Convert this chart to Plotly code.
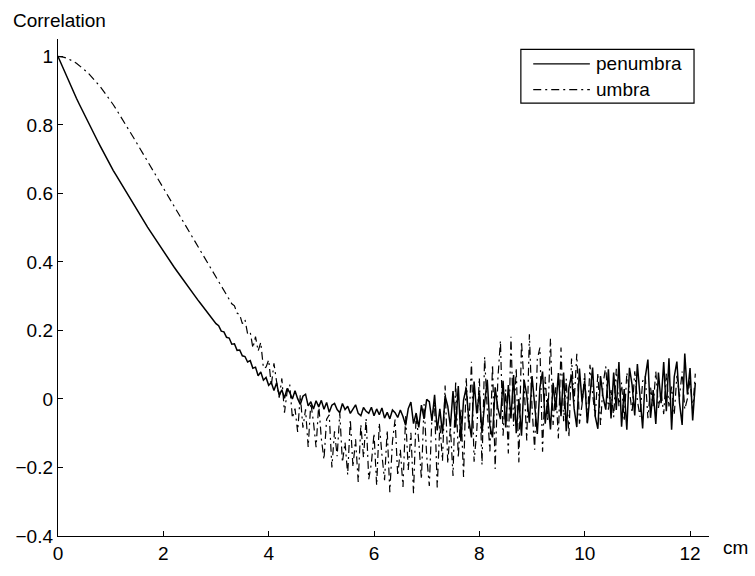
import plotly.graph_objects as go

# sampling grid (cm)
x_cm = [round(0.05 * i, 2) for i in range(243)]

# penumbra: smooth part 0.00 .. 4.00
penumbra_smooth = [
    1.000, 0.982, 0.964, 0.946, 0.929, 0.912, 0.895, 0.878, 0.862, 0.846,
    0.830, 0.814, 0.799, 0.784, 0.769, 0.754, 0.739, 0.724, 0.709, 0.695,
    0.681, 0.667, 0.654, 0.641, 0.628, 0.615, 0.602, 0.589, 0.576, 0.563,
    0.550, 0.538, 0.526, 0.514, 0.502, 0.490, 0.478, 0.466, 0.454, 0.442,
    0.430, 0.419, 0.408, 0.397, 0.386, 0.375, 0.364, 0.353, 0.342, 0.331,
    0.320, 0.310, 0.300, 0.290, 0.280, 0.270, 0.260, 0.250, 0.240, 0.230,
    0.220, 0.214, 0.198, 0.196, 0.180, 0.178, 0.160, 0.161, 0.142, 0.143,
    0.126, 0.124, 0.108, 0.112, 0.090, 0.093, 0.068, 0.079, 0.055, 0.063,
    0.040,
]
# penumbra: noisy part 4.05 .. 12.10
penumbra_noisy = [
    # 4.05 - 5.00
    0.048, 0.025, 0.047, 0.010, 0.027, 0.002, 0.031, 0.019, 0.000, 0.024,
    0.001, -0.016, 0.008, 0.014, -0.020, -0.008, -0.029, -0.005, -0.023, -0.004,
    # 5.05 - 6.50
    -0.030, -0.010, -0.039, -0.018, -0.013, -0.031, -0.040, -0.013, -0.031, -0.021,
    -0.042, -0.028, -0.017, -0.042, -0.049, -0.025, -0.036, -0.042, -0.024, -0.049,
    -0.029, -0.046, -0.026, -0.056, -0.039, -0.058, -0.032, -0.040, -0.054, -0.032,
    # 6.55 - 7.50
    -0.051, -0.077, -0.028, -0.009, -0.072, -0.041, -0.083, -0.018, -0.058, -0.001,
    -0.008, -0.064, 0.012, -0.092, -0.029, -0.101, 0.009, -0.021, -0.081, 0.023,
    # 7.55 - 9.50
    -0.083, 0.038, -0.123, -0.003, 0.032, -0.061, -0.112, 0.051, -0.042, 0.019,
    -0.099, -0.013, 0.056, -0.079, -0.112, 0.034, -0.026, -0.059, 0.053, -0.083,
    0.041, -0.057, 0.070, -0.100, 0.000, -0.107, 0.055, 0.011, -0.069, 0.067,
    -0.031, -0.102, 0.034, 0.080, -0.072, 0.001, -0.089, 0.047, -0.033, 0.076,
    # 9.55 - 12.10
    -0.050, 0.077, -0.094, 0.033, 0.069, -0.029, -0.082, 0.089, -0.009, 0.054,
    -0.071, 0.020, 0.092, -0.051, -0.087, 0.067, 0.005, -0.031, 0.087, -0.057,
    0.077, -0.032, 0.108, -0.081, 0.029, -0.090, 0.091, 0.041, -0.048, 0.102,
    -0.007, -0.086, 0.064, 0.115, -0.055, 0.026, -0.073, 0.077, -0.012, 0.108,
    -0.036, 0.119, -0.090, 0.065, 0.109, -0.011, -0.076, 0.133, 0.013, 0.090,
    -0.063, 0.047,
]
# umbra: smooth part 0.00 .. 3.30
umbra_smooth = [
    1.000, 0.9995, 0.998, 0.996, 0.993, 0.989, 0.985, 0.980, 0.974, 0.968,
    0.962, 0.955, 0.947, 0.939, 0.930, 0.921, 0.912, 0.902, 0.892, 0.881,
    0.870, 0.859, 0.847, 0.835, 0.823, 0.811, 0.798, 0.785, 0.772, 0.759,
    0.746, 0.733, 0.720, 0.707, 0.694, 0.681, 0.668, 0.655, 0.642, 0.629,
    0.616, 0.603, 0.590, 0.577, 0.564, 0.551, 0.538, 0.525, 0.512, 0.499,
    0.486, 0.473, 0.460, 0.447, 0.434, 0.421, 0.408, 0.395, 0.382, 0.369,
    0.356, 0.343, 0.330, 0.317, 0.304, 0.291, 0.278,
]
# umbra: noisy part 3.35 .. 12.10
umbra_noisy = [
    # 3.35 - 3.50
    0.272, 0.251, 0.246, 0.220,
    # 3.55 - 4.00
    0.232, 0.190, 0.195, 0.149, 0.182, 0.140, 0.165, 0.090, 0.093, 0.114,
    # 4.05 - 4.50
    0.039, 0.104, 0.051, 0.004, 0.060, -0.040, 0.021, 0.042, -0.056, -0.028,
    # 4.55 - 5.00
    -0.096, 0.012, -0.084, -0.030, -0.140, -0.011, -0.067, -0.141, -0.016, -0.116,
    # 5.05 - 5.50
    -0.177, -0.059, -0.046, -0.200, -0.094, -0.167, -0.041, -0.185, -0.127, -0.221,
    # 5.55 - 6.00
    -0.060, -0.199, -0.118, -0.242, -0.074, -0.171, -0.057, -0.234, -0.188, -0.100,
    # 6.05 - 6.50
    -0.252, -0.070, -0.163, -0.237, -0.091, -0.272, -0.124, -0.060, -0.224, -0.148,
    # 6.55 - 7.00
    -0.257, -0.050, -0.207, -0.099, -0.275, -0.042, -0.124, -0.234, -0.015, -0.166,
    # 7.05 - 7.50
    -0.254, -0.050, -0.016, -0.258, -0.073, -0.181, 0.039, -0.188, -0.080, -0.225,
    # 7.55 - 8.00
    0.052, -0.172, -0.028, -0.228, 0.063, -0.092, 0.109, -0.183, -0.095, 0.062,
    # 8.05 - 8.50
    -0.192, 0.123, -0.031, -0.153, 0.101, -0.204, 0.055, 0.170, -0.107, 0.028,
    # 8.55 - 9.00
    -0.159, 0.182, -0.079, 0.091, -0.185, 0.168, 0.041, -0.121, 0.189, -0.026,
    # 9.05 - 9.50
    -0.148, 0.116, 0.150, -0.154, 0.065, -0.065, 0.176, -0.076, 0.034, -0.115,
    # 9.55 - 10.00
    0.150, -0.065, 0.059, -0.112, 0.118, -0.007, 0.132, -0.072, -0.016, 0.075,
    # 10.05 - 10.50
    -0.074, 0.100, 0.014, -0.051, 0.076, -0.076, 0.046, 0.095, -0.031, 0.026,
    # 10.55 - 11.00
    -0.053, 0.088, -0.021, 0.048, -0.065, 0.077, 0.025, -0.040, 0.081, -0.004,
    # 11.05 - 11.50
    -0.052, 0.052, 0.066, -0.056, 0.033, -0.021, 0.080, -0.026, 0.021, -0.044,
    # 11.55 - 12.10
    0.074, -0.022, 0.036, -0.046, 0.068, 0.006, 0.080, -0.030, 0.001, 0.056,
    -0.033, 0.074,
]

penumbra = penumbra_smooth + penumbra_noisy
umbra = umbra_smooth + umbra_noisy
assert len(penumbra) == len(x_cm) and len(umbra) == len(x_cm)

y_ticks = [-0.4, -0.2, 0, 0.2, 0.4, 0.6, 0.8, 1]
y_ticktext = ["\u22120.4", "\u22120.2", "0", "0.2", "0.4", "0.6", "0.8", "1"]
x_ticks = [0, 2, 4, 6, 8, 10, 12]
series_names = ["penumbra", "umbra"]

FONT = "Liberation Sans, Arial, Helvetica, sans-serif"
FS = 19
UMBRA_DASH = "8px,4px,2px,4px"

fig = go.Figure()
fig.add_trace(go.Scatter(x=x_cm, y=penumbra, mode="lines", name=series_names[0],
                         line=dict(color="black", width=1.5), showlegend=False))
fig.add_trace(go.Scatter(x=x_cm, y=umbra, mode="lines", name=series_names[1],
                         line=dict(color="black", width=1.2, dash=UMBRA_DASH), showlegend=False))

axis_common = dict(showgrid=False, zeroline=False, showline=True, linecolor="black",
                   linewidth=1.4, ticks="inside", ticklen=5, tickcolor="black",
                   tickfont=dict(family=FONT, size=FS, color="black"), mirror=False)

fig.update_layout(
    width=755, height=576,
    margin=dict(l=58, r=46, t=39, b=23),
    paper_bgcolor="white", plot_bgcolor="white",
    font=dict(family=FONT, size=FS, color="black"),
    xaxis=dict(range=[0, 12.36], tickvals=x_ticks, **axis_common),
    yaxis=dict(range=[-0.4, 1.051], tickvals=y_ticks, ticktext=y_ticktext, **axis_common),
)

# axis titles as in the original (MATLAB-style placement)
fig.add_annotation(text="Correlation", xref="paper", yref="paper", x=-0.072, y=1.038,
                   xanchor="left", yanchor="middle", showarrow=False,
                   font=dict(family=FONT, size=FS))
fig.add_annotation(text="cm", xref="paper", yref="paper", x=1.04, y=-0.024,
                   xanchor="center", yanchor="middle", showarrow=False,
                   font=dict(family=FONT, size=FS))

# legend box drawn in paper coordinates
lx0, lx1, ly0, ly1 = 0.711, 0.977, 0.871, 0.979
fig.add_shape(type="rect", xref="paper", yref="paper", x0=lx0, x1=lx1, y0=ly0, y1=ly1,
              line=dict(color="black", width=1.2), fillcolor="white")
rows = [0.950, 0.898]
dashes = ["solid", UMBRA_DASH]
for name, ry, d in zip(series_names, rows, dashes):
    fig.add_shape(type="line", xref="paper", yref="paper", x0=0.730, x1=0.817, y0=ry, y1=ry,
                  line=dict(color="black", width=1.2, dash=d))
    fig.add_annotation(text=name, xref="paper", yref="paper", x=0.824, y=ry,
                       xanchor="left", yanchor="middle", showarrow=False,
                       font=dict(family=FONT, size=FS))

fig.write_html("out.html")
